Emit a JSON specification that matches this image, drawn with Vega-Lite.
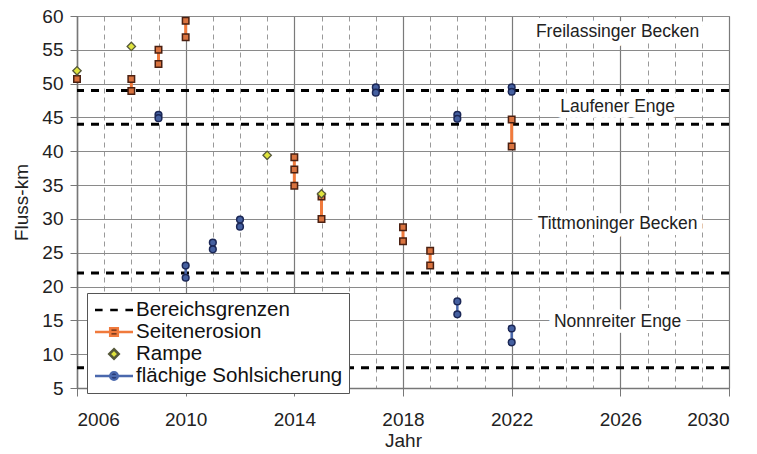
{
  "$schema": "https://vega.github.io/schema/vega-lite/v6.json",
  "width": 652,
  "height": 372,
  "autosize": {"type": "none"},
  "padding": {"left": 77, "top": 16, "right": 28, "bottom": 66},
  "background": "white",
  "config": {"font": "Liberation Sans", "view": {"stroke": "#888"}},
  "datasets": {
    "pts": [
      {"type": "Seitenerosion", "year": 2006, "km": 50.7, "grp": "s2006"},
      {"type": "Seitenerosion", "year": 2008, "km": 50.7, "grp": "s2008"},
      {"type": "Seitenerosion", "year": 2008, "km": 48.9, "grp": "s2008"},
      {"type": "Seitenerosion", "year": 2009, "km": 55.0, "grp": "s2009"},
      {"type": "Seitenerosion", "year": 2009, "km": 52.9, "grp": "s2009"},
      {"type": "Seitenerosion", "year": 2010, "km": 59.3, "grp": "s2010"},
      {"type": "Seitenerosion", "year": 2010, "km": 56.85, "grp": "s2010"},
      {"type": "Seitenerosion", "year": 2014, "km": 39.1, "grp": "s2014"},
      {"type": "Seitenerosion", "year": 2014, "km": 37.3, "grp": "s2014"},
      {"type": "Seitenerosion", "year": 2014, "km": 34.9, "grp": "s2014"},
      {"type": "Seitenerosion", "year": 2015, "km": 33.3, "grp": "s2015"},
      {"type": "Seitenerosion", "year": 2015, "km": 30.0, "grp": "s2015"},
      {"type": "Seitenerosion", "year": 2018, "km": 28.75, "grp": "s2018"},
      {"type": "Seitenerosion", "year": 2018, "km": 26.7, "grp": "s2018"},
      {"type": "Seitenerosion", "year": 2019, "km": 25.3, "grp": "s2019"},
      {"type": "Seitenerosion", "year": 2019, "km": 23.1, "grp": "s2019"},
      {"type": "Seitenerosion", "year": 2022, "km": 44.7, "grp": "s2022"},
      {"type": "Seitenerosion", "year": 2022, "km": 40.7, "grp": "s2022"},
      {"type": "Rampe", "year": 2006, "km": 51.9, "grp": "r2006"},
      {"type": "Rampe", "year": 2008, "km": 55.5, "grp": "r2008"},
      {"type": "Rampe", "year": 2013, "km": 39.4, "grp": "r2013"},
      {"type": "Rampe", "year": 2015, "km": 33.7, "grp": "r2015"},
      {"type": "flächige Sohlsicherung", "year": 2009, "km": 45.4, "grp": "b2009"},
      {"type": "flächige Sohlsicherung", "year": 2009, "km": 44.9, "grp": "b2009"},
      {"type": "flächige Sohlsicherung", "year": 2010, "km": 23.1, "grp": "b2010"},
      {"type": "flächige Sohlsicherung", "year": 2010, "km": 21.3, "grp": "b2010"},
      {"type": "flächige Sohlsicherung", "year": 2011, "km": 26.5, "grp": "b2011"},
      {"type": "flächige Sohlsicherung", "year": 2011, "km": 25.5, "grp": "b2011"},
      {"type": "flächige Sohlsicherung", "year": 2012, "km": 29.9, "grp": "b2012"},
      {"type": "flächige Sohlsicherung", "year": 2012, "km": 28.85, "grp": "b2012"},
      {"type": "flächige Sohlsicherung", "year": 2017, "km": 49.45, "grp": "b2017"},
      {"type": "flächige Sohlsicherung", "year": 2017, "km": 48.66, "grp": "b2017"},
      {"type": "flächige Sohlsicherung", "year": 2020, "km": 45.4, "grp": "b2020a"},
      {"type": "flächige Sohlsicherung", "year": 2020, "km": 44.8, "grp": "b2020a"},
      {"type": "flächige Sohlsicherung", "year": 2020, "km": 17.8, "grp": "b2020b"},
      {"type": "flächige Sohlsicherung", "year": 2020, "km": 15.9, "grp": "b2020b"},
      {"type": "flächige Sohlsicherung", "year": 2022, "km": 49.45, "grp": "b2022a"},
      {"type": "flächige Sohlsicherung", "year": 2022, "km": 48.8, "grp": "b2022a"},
      {"type": "flächige Sohlsicherung", "year": 2022, "km": 13.8, "grp": "b2022b"},
      {"type": "flächige Sohlsicherung", "year": 2022, "km": 11.75, "grp": "b2022b"}
    ],
    "grenzen": [
      {"type": "Bereichsgrenzen", "km": 49},
      {"type": "Bereichsgrenzen", "km": 44},
      {"type": "Bereichsgrenzen", "km": 22},
      {"type": "Bereichsgrenzen", "km": 8}
    ],
    "labels": [
      {"label": "Freilassinger Becken", "year": 2025.9, "km": 57.7},
      {"label": "Laufener Enge", "year": 2025.9, "km": 46.6},
      {"label": "Tittmoninger Becken", "year": 2025.9, "km": 29.3},
      {"label": "Nonnreiter Enge", "year": 2025.9, "km": 14.8}
    ],
    "legend": [
      {"type": "Bereichsgrenzen"},
      {"type": "Seitenerosion"},
      {"type": "Rampe"},
      {"type": "flächige Sohlsicherung"}
    ]
  },
  "resolve": {"axis": {"x": "independent", "y": "independent"}},
  "layer": [
    {
      "data": {"name": "grenzen"},
      "mark": {"type": "rule", "color": "black", "strokeWidth": 3, "strokeDash": [8, 7]},
      "encoding": {
        "y": {
          "field": "km", "type": "quantitative",
          "scale": {"domain": [5, 60], "nice": false, "zero": false},
          "axis": {
            "orient": "left",
            "values": [5, 10, 15, 20, 25, 30, 35, 40, 45, 50, 55, 60],
            "grid": true, "gridColor": "#8a8a8a", "gridWidth": 1,
            "domain": true, "domainColor": "#777", "domainWidth": 1.5,
            "ticks": true, "tickSize": 7, "tickColor": "#777",
            "labelFontSize": 19, "labelColor": "#222", "labelPadding": 7,
            "title": "Fluss-km", "titleFontSize": 19, "titleFontWeight": "normal",
            "titleColor": "#222", "titlePadding": 10
          }
        }
      }
    },
    {
      "data": {"name": "pts"},
      "transform": [{"filter": "datum.type === 'Seitenerosion'"}],
      "mark": {"type": "line", "color": "#f07a3c", "strokeWidth": 3},
      "encoding": {
        "x": {
          "field": "year", "type": "quantitative",
          "scale": {"domain": [2006, 2030], "nice": false, "zero": false},
          "axis": {
            "orient": "bottom",
            "values": [2006, 2007, 2008, 2009, 2010, 2011, 2012, 2013, 2014, 2015, 2016, 2017, 2018, 2019, 2020, 2021, 2022, 2023, 2024, 2025, 2026, 2027, 2028, 2029, 2030],
            "grid": true, "gridDash": [5, 4], "gridColor": "#999", "gridWidth": 1,
            "labels": false, "ticks": false, "domain": false, "title": null
          }
        },
        "y": {"field": "km", "type": "quantitative", "scale": {"domain": [5, 60]}, "axis": null},
        "detail": {"field": "grp"},
        "order": {"field": "km"}
      }
    },
    {
      "data": {"name": "pts"},
      "transform": [{"filter": "datum.type === 'flächige Sohlsicherung'"}],
      "mark": {"type": "line", "color": "#4a68ad", "strokeWidth": 2.5},
      "encoding": {
        "x": {"field": "year", "type": "quantitative", "axis": null},
        "y": {"field": "km", "type": "quantitative", "axis": null},
        "detail": {"field": "grp"},
        "order": {"field": "km"}
      }
    },
    {
      "data": {"name": "pts"},
      "transform": [{"filter": "datum.type === 'Seitenerosion'"}],
      "mark": {"type": "point", "shape": "square", "filled": true, "fill": "#d9733f", "stroke": "#4a2012", "strokeWidth": 1.5, "size": 42, "opacity": 1},
      "encoding": {
        "x": {
          "field": "year", "type": "quantitative",
          "axis": {
            "orient": "bottom",
            "values": [2006, 2010, 2014, 2018, 2022, 2026, 2030],
            "format": "d",
            "grid": true, "gridColor": "#7a7a7a", "gridWidth": 1.2,
            "domain": true, "domainColor": "#777", "domainWidth": 1.5,
            "ticks": true, "tickSize": 8, "tickColor": "#777",
            "labelFontSize": 19, "labelColor": "#222", "labelPadding": 14,
            "title": "Jahr", "titleFontSize": 19, "titleFontWeight": "normal",
            "titleColor": "#222", "titlePadding": 2
          }
        },
        "y": {"field": "km", "type": "quantitative", "axis": null}
      }
    },
    {
      "data": {"name": "pts"},
      "transform": [{"filter": "datum.type === 'Rampe'"}],
      "mark": {"type": "point", "shape": "diamond", "filled": true, "fill": "#dfe43e", "stroke": "#55583a", "strokeWidth": 1.3, "size": 70, "opacity": 1},
      "encoding": {
        "x": {"field": "year", "type": "quantitative", "axis": null},
        "y": {"field": "km", "type": "quantitative", "axis": null}
      }
    },
    {
      "data": {"name": "pts"},
      "transform": [{"filter": "datum.type === 'flächige Sohlsicherung'"}],
      "mark": {"type": "point", "shape": "circle", "filled": true, "fill": "#4560a0", "stroke": "#1b2756", "strokeWidth": 1.5, "size": 45, "opacity": 1},
      "encoding": {
        "x": {"field": "year", "type": "quantitative", "axis": null},
        "y": {"field": "km", "type": "quantitative", "axis": null}
      }
    },
    {
      "data": {"name": "labels"},
      "mark": {"type": "text", "fontSize": 17.5, "fill": "white", "stroke": "white", "strokeWidth": 12, "strokeJoin": "round", "align": "center", "baseline": "middle"},
      "encoding": {
        "x": {"field": "year", "type": "quantitative", "axis": null},
        "y": {"field": "km", "type": "quantitative", "axis": null},
        "text": {"field": "label"}
      }
    },
    {
      "data": {"name": "labels"},
      "mark": {"type": "text", "fontSize": 17.5, "fill": "#222", "align": "center", "baseline": "middle"},
      "encoding": {
        "x": {"field": "year", "type": "quantitative", "axis": null},
        "y": {"field": "km", "type": "quantitative", "axis": null},
        "text": {"field": "label"}
      }
    },
    {
      "data": {"name": "legend"},
      "mark": {"type": "point", "filled": true},
      "encoding": {
        "opacity": {"value": 0},
        "shape": {
          "field": "type", "type": "nominal",
          "scale": {
            "domain": ["Bereichsgrenzen", "Seitenerosion", "Rampe", "flächige Sohlsicherung"],
            "range": [
              "M-2,0H-1.2M-0.4,0H0.4M1.2,0H2",
              "M-2,0H2M-0.4,-0.4H0.4V0.4H-0.4Z",
              "M0,-0.5L0.5,0L0,0.5L-0.5,0Z",
              "M-2,0H2M-0.4,0A0.4,0.4,0,1,0,0.4,0A0.4,0.4,0,1,0,-0.4,0Z"
            ]
          },
          "legend": {
            "title": null, "orient": "none", "legendX": 10, "legendY": 277,
            "fillColor": "white", "strokeColor": "#555", "padding": 6,
            "symbolSize": 361, "symbolStrokeWidth": 2.5, "symbolOpacity": 1,
            "labelFontSize": 20.5, "labelColor": "#111", "labelOffset": 11,
            "labelLimit": 400,
            "symbolOffset": 10, "rowPadding": -3.5
          }
        },
        "fill": {
          "field": "type", "type": "nominal",
          "scale": {
            "domain": ["Bereichsgrenzen", "Seitenerosion", "Rampe", "flächige Sohlsicherung"],
            "range": ["#000000", "#5a2a16", "#dfe43e", "#1f2e66"]
          }
        },
        "stroke": {
          "field": "type", "type": "nominal",
          "scale": {
            "domain": ["Bereichsgrenzen", "Seitenerosion", "Rampe", "flächige Sohlsicherung"],
            "range": ["#000000", "#f07a3c", "#55583a", "#4a68ad"]
          }
        }
      }
    }
  ]
}
